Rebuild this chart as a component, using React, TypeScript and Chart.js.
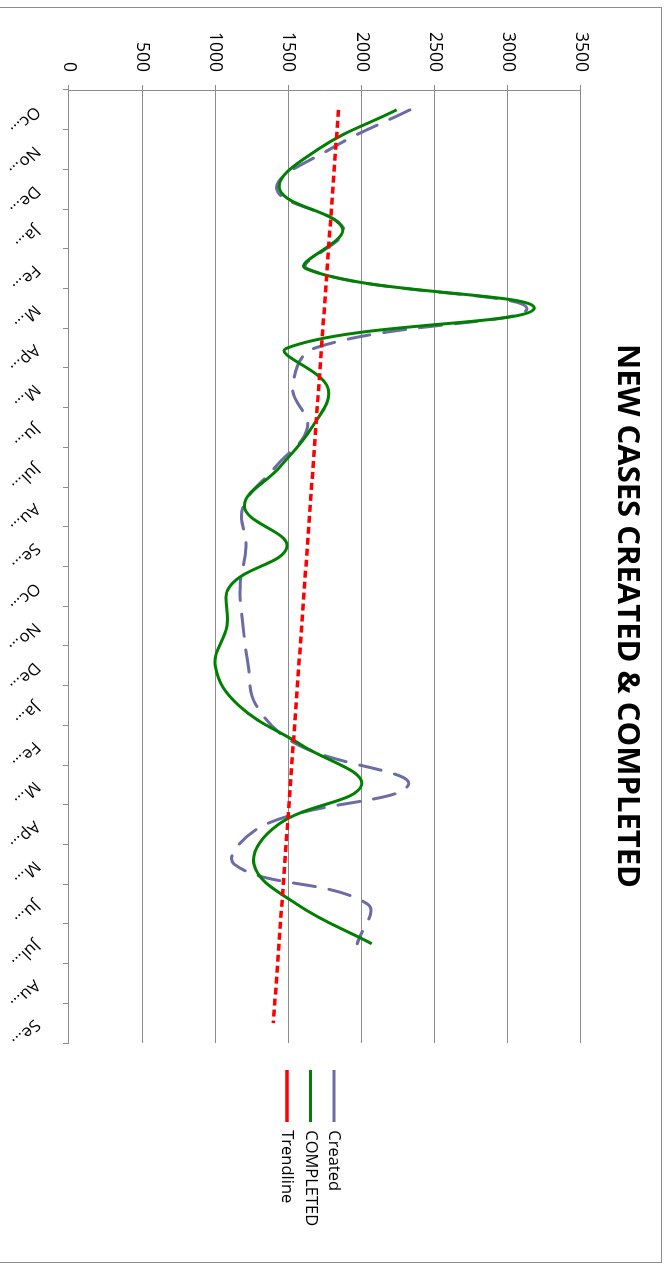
import { useEffect, useRef } from 'react';
import { Chart, registerables } from 'chart.js';

Chart.register(...registerables);

// Month labels as they appear (shortened) on the category axis
const categories = [
  'Oc...', 'No...', 'De...', 'Ja...', 'Fe...', 'M...', 'Ap...', 'M...', 'Ju...', 'Jul...', 'Au...', 'Se...',
  'Oc...', 'No...', 'De...', 'Ja...', 'Fe...', 'M...', 'Ap...', 'M...', 'Ju...', 'Jul...', 'Au...', 'Se...',
];

// New cases created per month
const created = [
  2330, 1780, 1420, 1880, 1630, 3130, 1680, 1530, 1630, 1410, 1190, 1210,
  1170, 1190, 1225, 1280, 1570, 2320, 1340, 1130, 2040, 1970,
];

// Cases completed per month
const completed = [
  2240, 1700, 1440, 1870, 1620, 3180, 1490, 1770, 1660, 1440, 1200, 1490,
  1100, 1080, 1000, 1160, 1590, 2000, 1430, 1265, 1555, 2070,
];

// Linear trend: start and end values, joined straight across the gaps
const trendline = [
  1842, null, null, null, null, null, null, null, null, null, null, null,
  null, null, null, null, null, null, null, null, null, null, null, 1397,
];

const valueTicks = [0, 500, 1000, 1500, 2000, 2500, 3000, 3500];

const FONT = "'Open Sans', 'DejaVu Sans', sans-serif";
const GRID = '#8c8c8c';

// Canvas size of the (unrotated) chart, frame included
const CW = 1256;
const CH = 702;
// Plot area edges inside the canvas
const AREA_LEFT = 83;
const AREA_RIGHT = 1036;
const AREA_BOTTOM = 593;
// Space between the plot area and the legend column
const LEGEND_GAP = 20;
// Horizontal centre wanted for the title
const TITLE_CENTER = 609;

// Thin grey frame around the whole chart
const chartFrame = {
  id: 'chartFrame',
  beforeDraw(chart: any) {
    const ctx = chart.ctx;
    ctx.save();
    ctx.fillStyle = '#fff';
    ctx.fillRect(0, 0, chart.width, chart.height);
    ctx.strokeStyle = GRID;
    ctx.lineWidth = 1;
    ctx.strokeRect(0.5, 0.5, chart.width - 1, chart.height - 1);
    ctx.restore();
  },
};

// Category names, slanted and hanging below the axis
const slantedCategoryLabels = {
  id: 'slantedCategoryLabels',
  afterDraw(chart: any) {
    const scale = chart.scales.x;
    const ctx = chart.ctx;
    ctx.save();
    ctx.font = `16.5px ${FONT}`;
    ctx.fillStyle = '#000';
    ctx.textAlign = 'left';
    ctx.textBaseline = 'middle';
    categories.forEach((label, i) => {
      const x = scale.getPixelForValue(i);
      ctx.save();
      ctx.translate(x - 1, scale.top + 32);
      ctx.rotate(Math.PI / 4);
      ctx.fillText(label, 0, 0);
      ctx.restore();
    });
    ctx.restore();
  },
};

export default function App() {
  const canvasRef = useRef<HTMLCanvasElement>(null);

  useEffect(() => {
    const canvas = canvasRef.current;
    if (!canvas) return;
    const pad = { left: 0, right: 0, top: 1, bottom: 0 };
    const chart = new Chart(canvas, {
      type: 'line',
      data: {
        labels: categories,
        datasets: [
          {
            label: 'Created',
            data: created,
            borderColor: '#6b6ba6',
            backgroundColor: '#6b6ba6',
            borderWidth: 3,
            borderDash: [22, 14],
            borderCapStyle: 'round',
            tension: 0.4,
            pointRadius: 0,
            order: 3,
          },
          {
            label: 'COMPLETED',
            data: completed,
            borderColor: '#008000',
            backgroundColor: '#008000',
            borderWidth: 3,
            tension: 0.4,
            pointRadius: 0,
            order: 2,
          },
          {
            label: 'Trendline',
            data: trendline,
            borderColor: '#ff0000',
            backgroundColor: '#ff0000',
            borderWidth: 3.5,
            borderDash: [7, 4],
            spanGaps: true,
            tension: 0,
            pointRadius: 0,
            order: 1,
          },
        ],
      },
      options: {
        responsive: false,
        animation: false,
        devicePixelRatio: 1,
        layout: { padding: { ...pad } },
        plugins: {
          title: {
            display: true,
            text: 'NEW CASES CREATED & COMPLETED',
            color: '#000',
            font: { family: FONT, size: 31, weight: 'bold', lineHeight: 1.2 },
            padding: { top: 15.4, bottom: 27.4 },
          },
          legend: {
            position: 'right',
            labels: {
              usePointStyle: true,
              pointStyle: 'line',
              pointStyleWidth: 52,
              padding: 7,
              color: '#000',
              font: { family: FONT, size: 16.5 },
              sort: (a: any, b: any) => a.datasetIndex - b.datasetIndex,
            },
          },
          tooltip: { enabled: false },
        },
        scales: {
          x: {
            type: 'category',
            offset: true,
            grid: {
              display: true,
              drawOnChartArea: false,
              drawTicks: true,
              tickLength: 6,
              color: GRID,
              offset: true,
            },
            border: { display: true, color: GRID, width: 1 },
            ticks: { display: false },
            afterFit: (s: any) => {
              s.height = CH - AREA_BOTTOM;
            },
          },
          y: {
            type: 'linear',
            position: 'left',
            min: valueTicks[0],
            max: valueTicks[valueTicks.length - 1],
            afterBuildTicks: (s: any) => {
              s.ticks = valueTicks.map((v) => ({ value: v }));
            },
            grid: { color: GRID, tickLength: 5, drawTicks: true },
            border: { display: true, color: GRID, width: 1 },
            ticks: {
              color: '#000',
              padding: 13,
              font: { family: FONT, size: 17.5 },
              callback: (v: any) => String(v),
            },
            afterFit: (s: any) => {
              s.width = AREA_LEFT - pad.left;
            },
          },
          gap: {
            type: 'linear',
            position: 'right',
            display: true,
            grid: { display: false },
            border: { display: false },
            ticks: { display: false },
            afterFit: (s: any) => {
              s.width = LEGEND_GAP;
            },
          },
        },
      } as any,
      plugins: [chartFrame, slantedCategoryLabels],
    });

    // Size the side paddings from the legend's measured width so the plot
    // area ends at AREA_RIGHT and the title sits at TITLE_CENTER.
    const legendWidth = chart.legend ? chart.legend.width : 0;
    pad.right = CW - (AREA_RIGHT + LEGEND_GAP) - legendWidth;
    pad.left = 2 * TITLE_CENTER - CW + pad.right;
    (chart.options as any).layout.padding = { ...pad };
    chart.update();

    return () => chart.destroy();
  }, []);

  return (
    <div
      style={{
        position: 'relative',
        width: 667,
        height: 1265,
        overflow: 'hidden',
        background: '#fff',
      }}
    >
      <style>{'body { margin: 0; }'}</style>
      <div
        style={{
          position: 'absolute',
          left: 0,
          top: 0,
          width: CW,
          height: CH,
          transformOrigin: '0 0',
          transform: 'translate(662px, 7px) rotate(90deg)',
        }}
      >
        <canvas
          ref={canvasRef}
          width={CW}
          height={CH}
          style={{ display: 'block', width: CW, height: CH }}
        />
      </div>
    </div>
  );
}
